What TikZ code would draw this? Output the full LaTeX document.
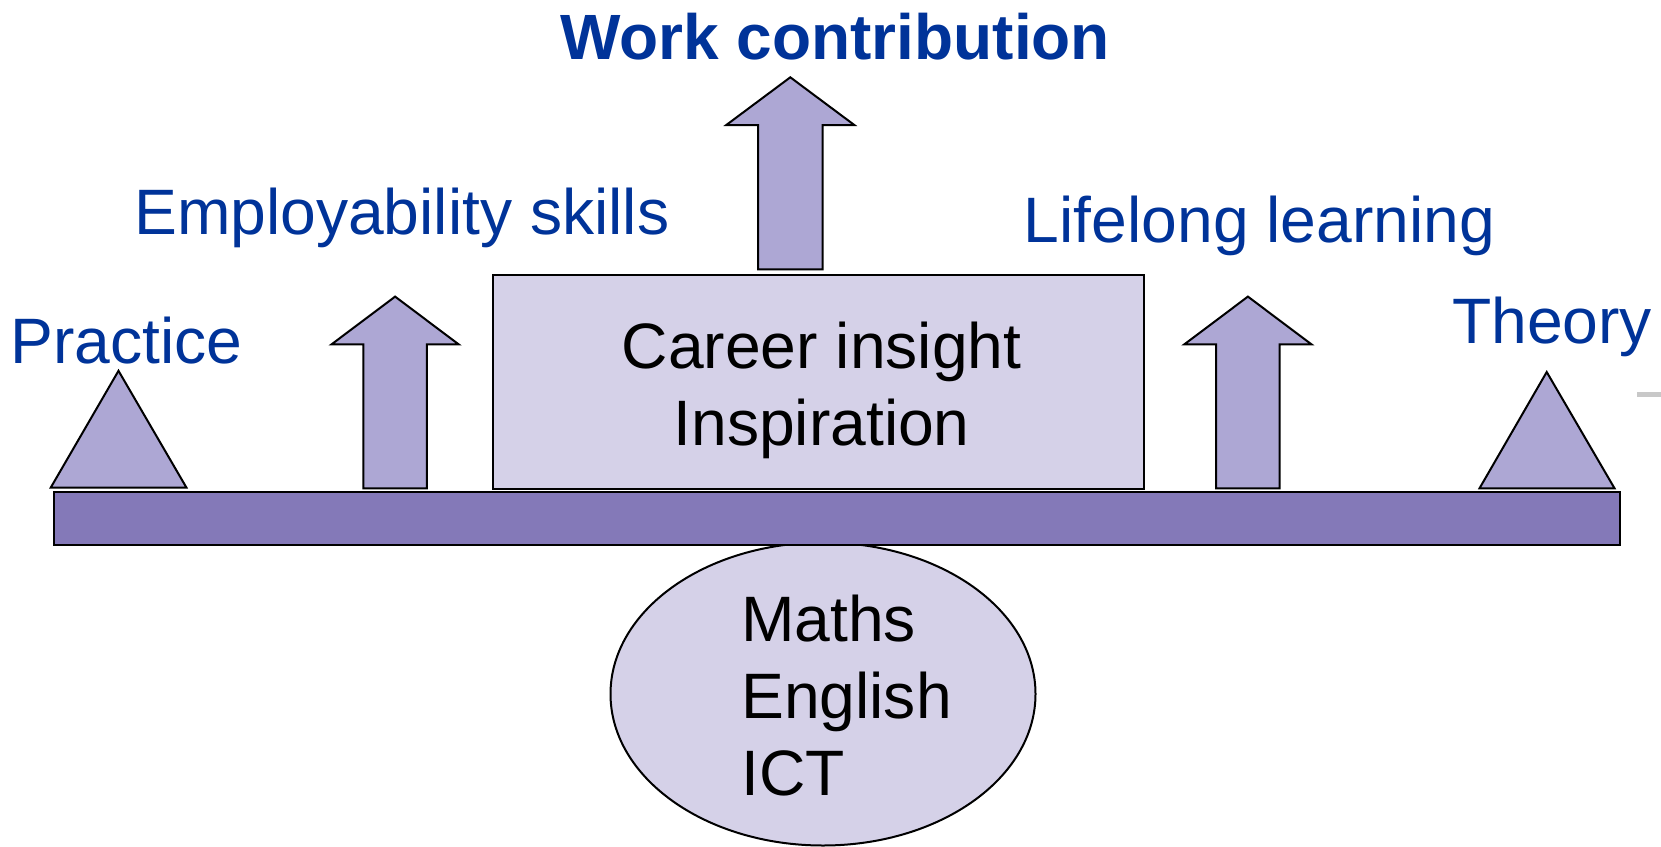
\documentclass[tikz,border=0pt]{standalone}
\usepackage{fontspec}
\setmainfont{Liberation Sans}
\usetikzlibrary{shapes.geometric}
\definecolor{txtblue}{HTML}{003399}
\definecolor{arrowfill}{HTML}{ADA7D4}
\definecolor{beamfill}{HTML}{8479B8}
\definecolor{lightfill}{HTML}{D5D1E8}
\definecolor{edgegray}{HTML}{C8C8C8}
\newcommand\fatarrow[7]{% name, cx, apex y, head y, bottom y, half head, half shaft
  \draw[piece] (#2,#3) coordinate (#1-tip) -- (#2+#6,#4) -- (#2+#7,#4) -- (#2+#7,#5)
     -- (#2-#7,#5) coordinate (#1-foot) -- (#2-#7,#4) -- (#2-#6,#4) -- cycle;}
\begin{document}
\begin{tikzpicture}[x=1pt,y=-1pt,
  shapeline/.style={draw=black, line width=2pt, line join=miter},
  piece/.style={shapeline, fill=arrowfill},
  bluelabel/.style={anchor=base west, inner sep=0pt, text=txtblue, font=\fontsize{64.2}{76}\selectfont},
  blacklabel/.style={inner sep=0pt, text=black, font=\fontsize{64.2}{76}\selectfont},
]
\useasboundingbox (0,0) rectangle (1661,846);
% fulcrum ellipse
\node[ellipse, shapeline, fill=lightfill, minimum width=425pt, minimum height=303pt, inner sep=0pt] (base) at (823,694) {};
% beam
\draw[shapeline, fill=beamfill] (54,491.5) rectangle (1620,544.5);
% weights
\draw[piece] (50.8,487.5) -- (186.4,487.5) -- (118.5,370.8) -- cycle;
\draw[piece] (1479.5,488.3) -- (1614.5,488.3) -- (1546.7,372) -- cycle;
% arrows
\fatarrow{empl}{395.1}{296.6}{344.3}{488.3}{63.5}{31.8}
\fatarrow{life}{1247.9}{296.6}{344.3}{488.3}{63.5}{31.8}
\fatarrow{work}{790.3}{77.3}{125}{269.3}{64}{32.2}
% career box
\draw[shapeline, fill=lightfill] (492.6,274.5) rectangle (1144,489.4);
% small gray mark at right edge
\fill[edgegray] (1637,392) rectangle (1661,397);
% labels
\node[bluelabel, font=\bfseries\fontsize{64}{76}\selectfont] (worklbl) at (560,59) {Work contribution};
\node[bluelabel] (empllbl) at (134,234.3) {Employability skills};
\node[bluelabel] (lifelbl) at (1023.7,242.3) {Lifelong learning};
\node[bluelabel] (praclbl) at (10,363.3) {Practice};
\node[bluelabel] (theolbl) at (1452,343.3) {Theory};
\node[blacklabel, anchor=base] (car1) at (821.6,368.3) {Career insight};
\node[blacklabel, anchor=base] (car2) at (821.6,445) {Inspiration};
\node[blacklabel, anchor=base west] (sub1) at (741,641.7) {Maths};
\node[blacklabel, anchor=base west] (sub2) at (741,718.3) {English};
\node[blacklabel, anchor=base west] (sub3) at (741,795) {ICT};
\end{tikzpicture}
\end{document}
